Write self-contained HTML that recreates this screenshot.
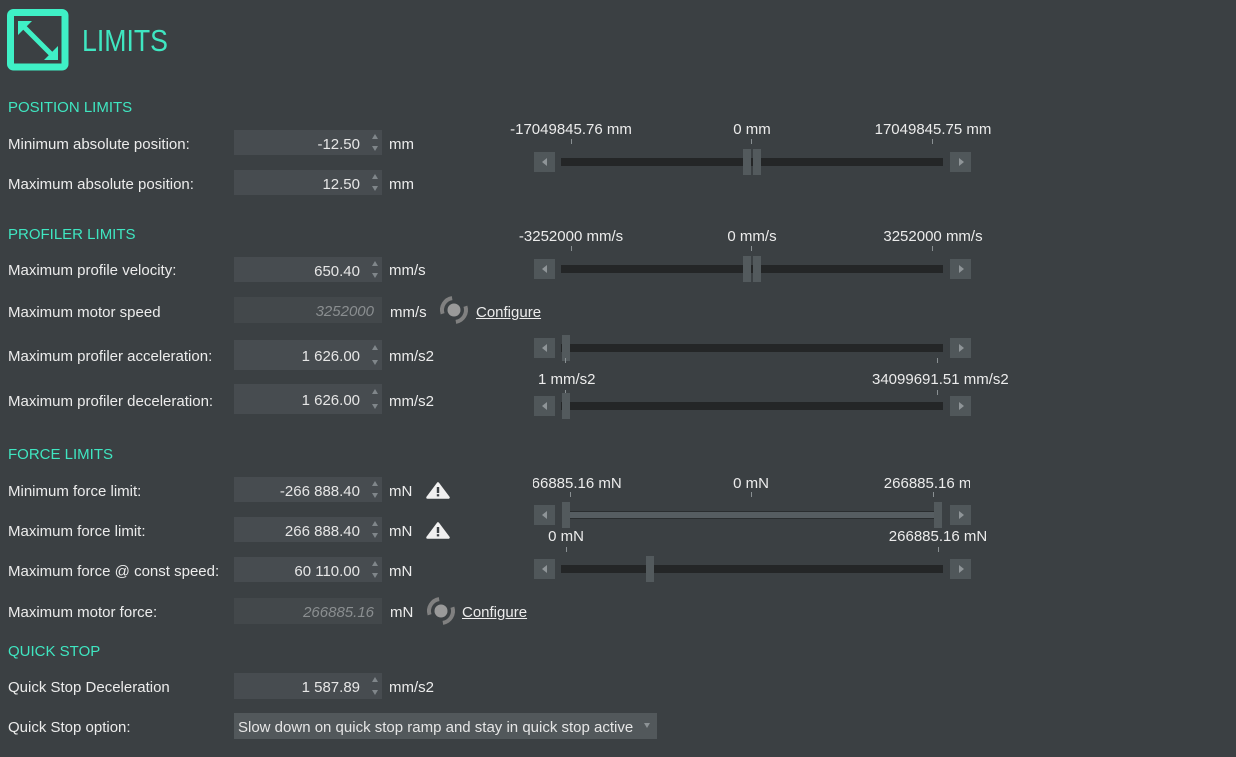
<!DOCTYPE html>
<html><head><meta charset="utf-8">
<style>
*{margin:0;padding:0;box-sizing:border-box}
html,body{width:1236px;height:757px;overflow:hidden;background:#3b4043;font-family:"Liberation Sans",Arial,sans-serif}
.a{position:absolute}
.t{position:absolute;font-size:15px;line-height:20px;white-space:nowrap;color:#ececec;margin-top:2px}
.h{color:#3fe6c1}
.in{position:absolute;left:234px;width:148px;background:#474c50}
.in .v{position:absolute;right:22px;top:2px;font-size:15px;color:#e6e6e6;white-space:nowrap}
.in .v.d{color:#8a8e90;font-style:italic}
.up{position:absolute;left:138px;width:0;height:0;border-left:3.5px solid transparent;border-right:3.5px solid transparent;border-bottom:5px solid #80868a}
.dn{position:absolute;left:138px;width:0;height:0;border-left:3.5px solid transparent;border-right:3.5px solid transparent;border-top:5px solid #80868a}
.btn{position:absolute;width:21px;height:20px;background:#50575a}
.btn.l{left:534px}.btn.r{left:950px}
.btn.l:after{content:"";position:absolute;left:8px;top:6px;border-top:4px solid transparent;border-bottom:4px solid transparent;border-right:5px solid #8f9598}
.btn.r:after{content:"";position:absolute;left:9px;top:6px;border-top:4px solid transparent;border-bottom:4px solid transparent;border-left:5px solid #8f9598}
.trk{position:absolute;left:561px;width:382px;height:8px;background:#242627}
.th{position:absolute;width:8px;height:26px;background:#535a5d}
.tk{position:absolute;width:1px;height:5px;background:#8a9093}
.c{position:absolute;width:240px;text-align:center;font-size:15px;line-height:20px;color:#ececec;white-space:nowrap;margin-top:2px}
.u{text-decoration:underline}
</style></head><body>

<!-- header icon -->
<svg class="a" style="left:7px;top:9px" width="62" height="62" viewBox="0 0 62 62">
<rect x="3.5" y="3.5" width="54.5" height="54.5" rx="3" fill="none" stroke="#3ff0c6" stroke-width="7"/>
<line x1="17" y1="18" x2="45" y2="46" stroke="#3ff0c6" stroke-width="5"/>
<polygon points="11,12 25,12 11,26" fill="#3ff0c6"/>
<polygon points="51,51 37,51 51,37" fill="#3ff0c6"/>
</svg>
<div class="a h" style="left:82px;top:21px;font-size:31px;line-height:40px;transform:scaleX(0.86);transform-origin:0 0;white-space:nowrap">LIMITS</div>

<!-- left labels -->
<div class="t h" style="left:8px;top:96px">POSITION LIMITS</div>
<div class="t" style="left:8px;top:133px">Minimum absolute position:</div>
<div class="t" style="left:8px;top:173px">Maximum absolute position:</div>
<div class="t h" style="left:8px;top:223px">PROFILER LIMITS</div>
<div class="t" style="left:8px;top:259px">Maximum profile velocity:</div>
<div class="t" style="left:8px;top:301px">Maximum motor speed</div>
<div class="t" style="left:8px;top:345px">Maximum profiler acceleration:</div>
<div class="t" style="left:8px;top:390px">Maximum profiler deceleration:</div>
<div class="t h" style="left:8px;top:443px">FORCE LIMITS</div>
<div class="t" style="left:8px;top:480px">Minimum force limit:</div>
<div class="t" style="left:8px;top:520px">Maximum force limit:</div>
<div class="t" style="left:8px;top:560px">Maximum force @ const speed:</div>
<div class="t" style="left:8px;top:601px">Maximum motor force:</div>
<div class="t h" style="left:8px;top:640px">QUICK STOP</div>
<div class="t" style="left:8px;top:676px">Quick Stop Deceleration</div>
<div class="t" style="left:8px;top:716px">Quick Stop option:</div>

<!-- inputs -->
<div class="in" style="top:130px;height:25px"><span class="v" style="line-height:25px">-12.50</span><i class="up" style="top:4px"></i><i class="dn" style="top:16px"></i></div>
<div class="in" style="top:170px;height:25px"><span class="v" style="line-height:25px">12.50</span><i class="up" style="top:4px"></i><i class="dn" style="top:16px"></i></div>
<div class="in" style="top:257px;height:25px"><span class="v" style="line-height:25px">650.40</span><i class="up" style="top:4px"></i><i class="dn" style="top:16px"></i></div>
<div class="in" style="top:297px;height:26px;background:#43484b"><span class="v d" style="line-height:26px;right:8px">3252000</span></div>
<div class="in" style="top:340px;height:30px"><span class="v" style="line-height:30px">1 626.00</span><i class="up" style="top:5px"></i><i class="dn" style="top:20px"></i></div>
<div class="in" style="top:384px;height:30px"><span class="v" style="line-height:30px">1 626.00</span><i class="up" style="top:5px"></i><i class="dn" style="top:20px"></i></div>
<div class="in" style="top:477px;height:25px"><span class="v" style="line-height:25px">-266 888.40</span><i class="up" style="top:4px"></i><i class="dn" style="top:16px"></i></div>
<div class="in" style="top:517px;height:25px"><span class="v" style="line-height:25px">266 888.40</span><i class="up" style="top:4px"></i><i class="dn" style="top:16px"></i></div>
<div class="in" style="top:557px;height:25px"><span class="v" style="line-height:25px">60 110.00</span><i class="up" style="top:4px"></i><i class="dn" style="top:16px"></i></div>
<div class="in" style="top:598px;height:26px;background:#43484b"><span class="v d" style="line-height:26px;right:8px">266885.16</span></div>
<div class="in" style="top:673px;height:26px"><span class="v" style="line-height:26px">1 587.89</span><i class="up" style="top:4px"></i><i class="dn" style="top:17px"></i></div>
<div class="in" style="top:713px;height:26px;width:423px;background:#52585b"><span class="a" style="left:4px;top:2px;line-height:26px;font-size:15px;color:#e6e6e6;white-space:nowrap">Slow down on quick stop ramp and stay in quick stop active</span><i class="dn" style="left:410px;top:10px;border-top-color:#8d9396"></i></div>

<!-- units -->
<div class="t" style="left:389px;top:133px">mm</div>
<div class="t" style="left:389px;top:173px">mm</div>
<div class="t" style="left:389px;top:259px">mm/s</div>
<div class="t" style="left:390px;top:301px">mm/s</div>
<div class="t" style="left:389px;top:345px">mm/s2</div>
<div class="t" style="left:389px;top:390px">mm/s2</div>
<div class="t" style="left:389px;top:480px">mN</div>
<div class="t" style="left:389px;top:520px">mN</div>
<div class="t" style="left:389px;top:560px">mN</div>
<div class="t" style="left:390px;top:601px">mN</div>
<div class="t" style="left:389px;top:676px">mm/s2</div>

<!-- configure icons -->
<svg class="a" style="left:438px;top:294px" width="32" height="32" viewBox="0 0 32 32">
<circle cx="16" cy="16" r="6.5" fill="#9a9a9a"/>
<path d="M4.59 19.71 A12 12 0 0 1 14.12 4.14" fill="none" stroke="#808080" stroke-width="4"/>
<path d="M27.41 12.29 A12 12 0 0 1 17.88 27.85" fill="none" stroke="#808080" stroke-width="4"/>
</svg>
<div class="t u" style="left:476px;top:301px">Configure</div>
<svg class="a" style="left:425px;top:595px" width="32" height="32" viewBox="0 0 32 32">
<circle cx="16" cy="16" r="6.5" fill="#9a9a9a"/>
<path d="M4.59 19.71 A12 12 0 0 1 14.12 4.14" fill="none" stroke="#808080" stroke-width="4"/>
<path d="M27.41 12.29 A12 12 0 0 1 17.88 27.85" fill="none" stroke="#808080" stroke-width="4"/>
</svg>
<div class="t u" style="left:462px;top:601px">Configure</div>

<!-- warnings -->
<svg class="a" style="left:426px;top:482px" width="24" height="17" viewBox="0 0 24 17">
<polygon points="12,1.5 22.5,15.5 1.5,15.5" fill="#f0f0f0" stroke="#f0f0f0" stroke-width="2.5" stroke-linejoin="round"/>
<rect x="10.8" y="5" width="2.4" height="6" fill="#3b4043"/><rect x="10.8" y="12.2" width="2.4" height="2.2" fill="#3b4043"/>
</svg>
<svg class="a" style="left:426px;top:522px" width="24" height="17" viewBox="0 0 24 17">
<polygon points="12,1.5 22.5,15.5 1.5,15.5" fill="#f0f0f0" stroke="#f0f0f0" stroke-width="2.5" stroke-linejoin="round"/>
<rect x="10.8" y="5" width="2.4" height="6" fill="#3b4043"/><rect x="10.8" y="12.2" width="2.4" height="2.2" fill="#3b4043"/>
</svg>

<!-- Slider A: position -->
<div class="c" style="left:451px;top:118px">-17049845.76 mm</div>
<div class="c" style="left:632px;top:118px">0 mm</div>
<div class="c" style="left:813px;top:118px">17049845.75 mm</div>
<div class="tk" style="left:571px;top:139px"></div><div class="tk" style="left:751px;top:139px"></div><div class="tk" style="left:932px;top:139px"></div>
<div class="btn l" style="top:152px"></div><div class="btn r" style="top:152px"></div>
<div class="trk" style="top:158px"></div>
<div class="th" style="left:743px;top:149px"></div><div class="th" style="left:753px;top:149px"></div>

<!-- Slider B: velocity -->
<div class="c" style="left:451px;top:225px">-3252000 mm/s</div>
<div class="c" style="left:632px;top:225px">0 mm/s</div>
<div class="c" style="left:813px;top:225px">3252000 mm/s</div>
<div class="tk" style="left:571px;top:246px"></div><div class="tk" style="left:751px;top:246px"></div><div class="tk" style="left:932px;top:246px"></div>
<div class="btn l" style="top:259px"></div><div class="btn r" style="top:259px"></div>
<div class="trk" style="top:265px"></div>
<div class="th" style="left:743px;top:256px"></div><div class="th" style="left:753px;top:256px"></div>

<!-- Slider C: accel -->
<div class="btn l" style="top:338px"></div><div class="btn r" style="top:338px"></div>
<div class="trk" style="top:344px"></div>
<div class="th" style="left:562px;top:335px"></div>
<div class="tk" style="left:565px;top:358px"></div><div class="tk" style="left:937px;top:358px"></div>
<div class="t" style="left:538px;top:368px">1 mm/s2</div>
<div class="t" style="left:872px;top:368px">34099691.51 mm/s2</div>

<!-- Slider D: decel -->
<div class="tk" style="left:565px;top:390px"></div><div class="tk" style="left:937px;top:390px"></div>
<div class="btn l" style="top:396px"></div><div class="btn r" style="top:396px"></div>
<div class="trk" style="top:402px"></div>
<div class="th" style="left:562px;top:393px"></div>

<!-- Slider E: force range -->
<div class="a" style="left:533px;top:472px;width:437px;height:24px;overflow:hidden">
<div class="c" style="left:-83px;top:0">-266885.16 mN</div>
<div class="c" style="left:98px;top:0">0 mN</div>
<div class="c" style="left:280px;top:0">266885.16 mN</div>
</div>
<div class="tk" style="left:570px;top:492px"></div><div class="tk" style="left:751px;top:492px"></div><div class="tk" style="left:933px;top:492px"></div>
<div class="btn l" style="top:505px"></div><div class="btn r" style="top:505px"></div>
<div class="a" style="left:570px;top:511px;width:364px;height:8px;background:#2a2d2f"></div>
<div class="a" style="left:570px;top:512px;width:364px;height:6px;background:#565d61"></div>
<div class="th" style="left:562px;top:502px"></div><div class="th" style="left:934px;top:502px"></div>

<!-- Slider F: force const -->
<div class="c" style="left:446px;top:525px">0 mN</div>
<div class="c" style="left:818px;top:525px">266885.16 mN</div>
<div class="tk" style="left:566px;top:547px"></div><div class="tk" style="left:938px;top:547px"></div>
<div class="btn l" style="top:559px"></div><div class="btn r" style="top:559px"></div>
<div class="trk" style="top:565px"></div>
<div class="th" style="left:646px;top:556px"></div>

</body></html>
